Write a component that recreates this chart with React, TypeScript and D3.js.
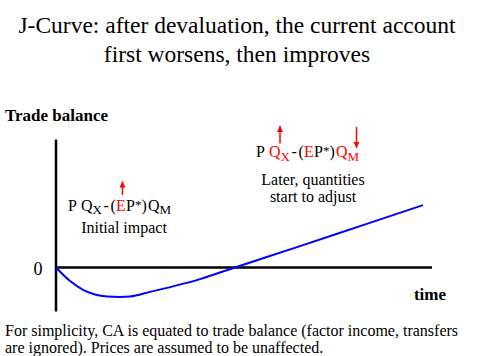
import React from "react";
import * as d3 from "d3";

const titleLines = ["J-Curve: after devaluation, the current account", "first worsens, then improves"];
const yAxisLabel = "Trade balance";
const xAxisLabel = "time";
const zeroLabel = "0";
const footnoteLines = [
  "For simplicity, CA is equated to trade balance (factor income, transfers",
  "are ignored). Prices are assumed to be unaffected.",
];
const initialLabel = ["Initial impact"];
const laterLabel = ["Later, quantities", "start to adjust"];

// J-curve: time (arbitrary units) vs trade balance (arbitrary units)
const timeValues = [0, 0.75, 1.44, 2.07, 2.71, 3.4, 3.94, 5, 7.66, 9.52, 12.98, 16.17, 19.52];
const balanceValues = [0, -0.68, -1.12, -1.35, -1.45, -1.47, -1.45, -1.22, -0.58, 0, 1.07, 2.07, 3.12];

const timeDomain = [0, 20];
const balanceDomain = [-2.2, 6.4];

const SERIF = "Liberation Serif";

function Arrow({ x, y1, y2, head }: { x: number; y1: number; y2: number; head: "up" | "down" }) {
  const hy = head === "up" ? Math.min(y1, y2) : Math.max(y1, y2);
  const dir = head === "up" ? 1 : -1;
  return (
    <g>
      <line x1={x} x2={x} y1={y1} y2={y2} stroke="#ff0000" strokeWidth={1.5} />
      <path d={`M${x},${hy} L${x - 3},${hy + dir * 6} L${x + 3},${hy + dir * 6} Z`} fill="#ff0000" />
    </g>
  );
}

// glyph offsets inside the formula "P QX - (EP*) QM"
function Formula({ x, y, redQ }: { x: number; y: number; redQ: boolean }) {
  const qc = redQ ? "#ff0000" : "#000";
  const parts: { t: string; dx: number; sub?: boolean; sup?: boolean; c?: string }[] = [
    { t: "P", dx: 0 },
    { t: "Q", dx: 13, c: qc },
    { t: "X", dx: 24.5, sub: true, c: qc },
    { t: "-", dx: 35.5 },
    { t: "(", dx: 42.5 },
    { t: "E", dx: 48, c: "#ff0000" },
    { t: "P", dx: 58 },
    { t: "*", dx: 67, sup: true },
    { t: ")", dx: 73.5 },
    { t: "Q", dx: 80, c: qc },
    { t: "M", dx: 91.5, sub: true, c: qc },
  ];
  return (
    <text fontFamily={SERIF} fontSize={16} fill="#000">
      {parts.map((p, i) => (
        <tspan
          key={i}
          x={x + p.dx}
          y={y + (p.sub ? 3.5 : p.sup ? -2 : 0)}
          fontSize={p.sub || p.sup ? 13 : 16}
          fill={p.c || "#000"}
        >
          {p.t}
        </tspan>
      ))}
    </text>
  );
}

export default function App() {
  const x = d3.scaleLinear().domain(timeDomain).range([56, 432]);
  const y = d3.scaleLinear().domain(balanceDomain).range([311.5, 139.5]);
  const pts = timeValues.map((t, i) => [t, balanceValues[i]] as [number, number]);
  const line = d3
    .line<[number, number]>()
    .x((d) => x(d[0]))
    .y((d) => y(d[1]))
    .curve(d3.curveMonotoneX);

  return (
    <svg
      width={480}
      height={356}
      style={{ position: "absolute", left: 0, top: 0, background: "#fff" }}
    >
      <rect width={480} height={356} fill="#fff" />
      {titleLines.map((t, i) => (
        <text key={i} x={237} y={33 + i * 29} textAnchor="middle" fontFamily={SERIF} fontSize={23.5} fill="#000">
          {t}
        </text>
      ))}
      <text x={5} y={121} fontFamily={SERIF} fontSize={17} fontWeight="bold" fill="#000">
        {yAxisLabel}
      </text>
      <text x={446} y={300} textAnchor="end" fontFamily={SERIF} fontSize={17} fontWeight="bold" fill="#000">
        {xAxisLabel}
      </text>
      <text x={38} y={275} textAnchor="middle" fontFamily={SERIF} fontSize={18} fill="#000">
        {zeroLabel}
      </text>
      {/* axes */}
      <line x1={x(timeDomain[0])} x2={x(timeDomain[0])} y1={y(balanceDomain[1])} y2={y(balanceDomain[0])} stroke="#000" strokeWidth={2.5} />
      <line x1={x(timeDomain[0])} x2={x(timeDomain[1])} y1={y(0)} y2={y(0)} stroke="#000" strokeWidth={2.5} />
      {/* curve */}
      <path d={line(pts) || ""} fill="none" stroke="#0000ff" strokeWidth={2} />
      {/* annotations */}
      <Formula x={68} y={210.5} redQ={false} />
      <Arrow x={122.5} y1={181.5} y2={195} head="up" />
      {initialLabel.map((t, i) => (
        <text key={i} x={124} y={233 + i * 17} textAnchor="middle" fontFamily={SERIF} fontSize={16} fill="#000">
          {t}
        </text>
      ))}
      <Formula x={256} y={157} redQ={true} />
      <Arrow x={280} y1={126} y2={143.5} head="up" />
      <Arrow x={356.5} y1={127} y2={148} head="down" />
      {laterLabel.map((t, i) => (
        <text key={i} x={313} y={185 + i * 17} textAnchor="middle" fontFamily={SERIF} fontSize={16} fill="#000">
          {t}
        </text>
      ))}
      {footnoteLines.map((t, i) => (
        <text key={i} x={5} y={336 + i * 17} fontFamily={SERIF} fontSize={16} fill="#000">
          {t}
        </text>
      ))}
    </svg>
  );
}
